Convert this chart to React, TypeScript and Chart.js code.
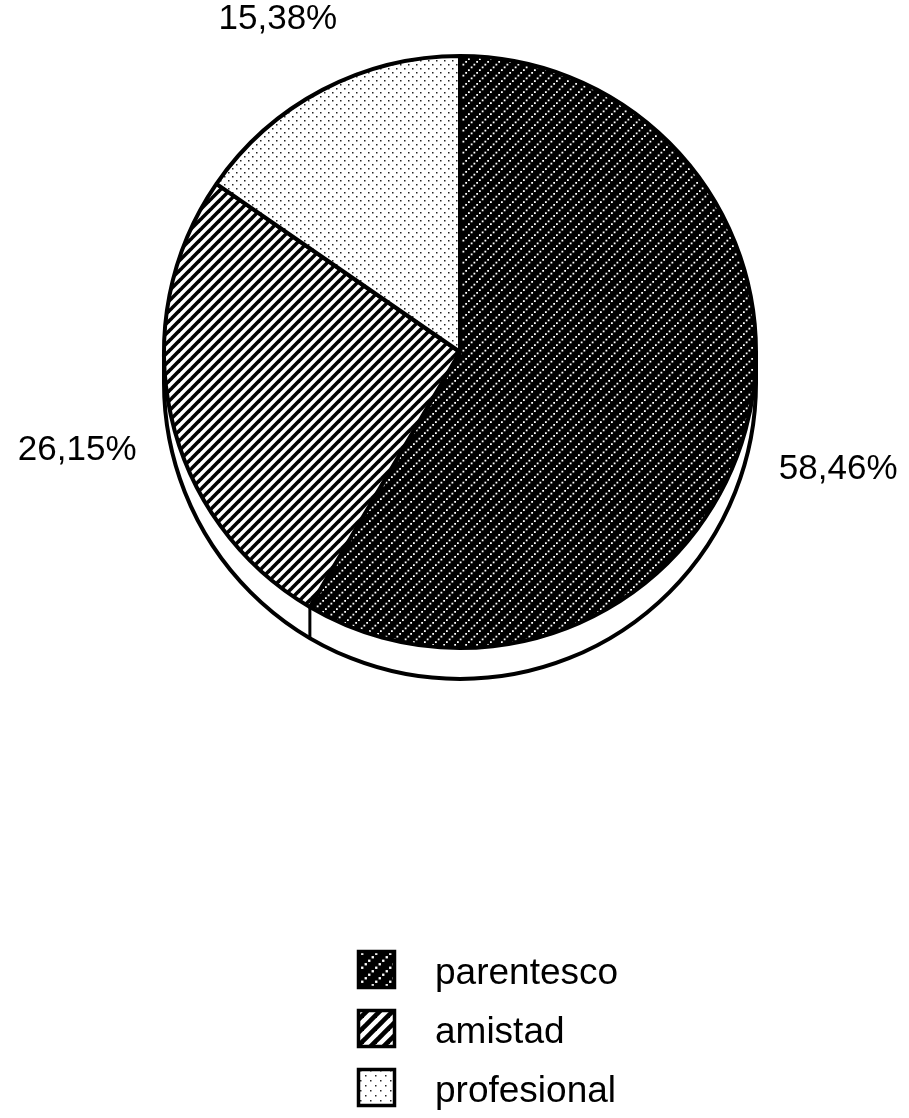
import React, { useEffect, useRef } from 'react';
import { Chart, registerables } from 'chart.js';

Chart.register(...registerables);

const categories = ['parentesco', 'amistad', 'profesional'];
const shares = [58.46, 26.15, 15.38];
const patternKinds = ['dense', 'stripes', 'dots'];

const FONT = '"Liberation Sans", Arial, Helvetica, sans-serif';

function makePattern(ctx: CanvasRenderingContext2D, kind: string, scale: number): CanvasPattern | string {
  const c = document.createElement('canvas');
  let base = 8;
  if (kind === 'dense') base = 10.5;
  if (kind === 'stripes') base = 10;
  const s = Math.round(base * scale);
  c.width = s;
  c.height = s;
  const g = c.getContext('2d')!;
  if (kind === 'dense') {
    g.fillStyle = '#000';
    g.fillRect(0, 0, s, s);
    g.fillStyle = '#fff';
    const n = 4;
    const step = s / n;
    const d = 1.8 * scale;
    for (let i = 0; i < n; i++) {
      const x = i * step + step / 2;
      const y = s - x;
      g.fillRect(x - d / 2, y - d / 2, d, d);
    }
  } else if (kind === 'stripes') {
    g.fillStyle = '#fff';
    g.fillRect(0, 0, s, s);
    g.strokeStyle = '#000';
    g.lineWidth = 3.6 * scale;
    for (const k of [0, s, 2 * s]) {
      g.beginPath();
      g.moveTo(-4, k + 4);
      g.lineTo(k + 4, -4);
      g.stroke();
    }
  } else {
    g.fillStyle = '#fff';
    g.fillRect(0, 0, s, s);
    g.fillStyle = '#222';
    const h = s / 2;
    g.fillRect(0, 0, 1.5, 1.5);
    g.fillRect(h, h, 1.5, 1.5);
  }
  return ctx.createPattern(c, 'repeat') || '#888';
}

const DEPTH = 31;

const rimPlugin = {
  id: 'rim',
  beforeDatasetsDraw(chart: any) {
    const meta = chart.getDatasetMeta(0);
    if (!meta.data.length) return;
    const a0 = meta.data[0];
    const cx = a0.x;
    const cy = a0.y;
    const r = a0.outerRadius;
    const ctx = chart.ctx;
    ctx.save();
    ctx.beginPath();
    ctx.arc(cx, cy + DEPTH, r, 0, Math.PI, false);
    ctx.lineTo(cx - r, cy);
    ctx.arc(cx, cy, r, Math.PI, 0, true);
    ctx.closePath();
    ctx.fillStyle = '#fff';
    ctx.fill();
    ctx.lineWidth = 4;
    ctx.strokeStyle = '#000';
    ctx.lineJoin = 'round';
    ctx.beginPath();
    ctx.moveTo(cx + r, cy);
    ctx.lineTo(cx + r, cy + DEPTH);
    ctx.arc(cx, cy + DEPTH, r, 0, Math.PI, false);
    ctx.lineTo(cx - r, cy);
    ctx.stroke();
    ctx.lineWidth = 3;
    meta.data.forEach((arc: any) => {
      const ang = arc.endAngle;
      const y = Math.sin(ang);
      if (y > 0) {
        const px = cx + Math.cos(ang) * r;
        const py = cy + y * r;
        ctx.beginPath();
        ctx.moveTo(px, py);
        ctx.lineTo(px, py + DEPTH);
        ctx.stroke();
      }
    });
    ctx.restore();
  },
};

let legendFills: (CanvasPattern | string)[] = [];

const labelPlugin = {
  id: 'pctLabels',
  afterDraw(chart: any) {
    const meta = chart.getDatasetMeta(0);
    const ctx = chart.ctx;
    ctx.save();
    ctx.fillStyle = '#000';
    ctx.font = `35px ${FONT}`;
    ctx.textAlign = 'center';
    ctx.textBaseline = 'middle';
    meta.data.forEach((arc: any, i: number) => {
      const mid = (arc.startAngle + arc.endAngle) / 2;
      const x = arc.x + Math.cos(mid) * 392;
      const y = arc.y + 14 + Math.sin(mid) * 392;
      const txt = shares[i].toFixed(2).replace('.', ',') + '%';
      ctx.fillText(txt, x, y);
    });
    categories.forEach((name, i) => {
      const top = 950 + i * 59;
      const left = 357;
      const size = 39;
      ctx.fillStyle = legendFills[i];
      ctx.fillRect(left, top, size, size);
      ctx.lineWidth = 3.5;
      ctx.strokeStyle = '#000';
      ctx.strokeRect(left + 1.5, top + 1.5, size - 3, size - 3);
      ctx.fillStyle = '#000';
      ctx.font = `37px ${FONT}`;
      ctx.textAlign = 'left';
      ctx.textBaseline = 'alphabetic';
      ctx.fillText(name, 435, top + 34);
    });
    ctx.restore();
  },
};

export default function App() {
  const ref = useRef<HTMLCanvasElement>(null);
  useEffect(() => {
    const canvas = ref.current!;
    const ctx = canvas.getContext('2d')!;
    const bgs = patternKinds.map((k) => makePattern(ctx, k, 1));
    legendFills = patternKinds.map((k) => makePattern(ctx, k, 1.3));
    const chart = new Chart(canvas, {
      type: 'pie',
      data: {
        labels: categories,
        datasets: [
          {
            data: shares,
            backgroundColor: bgs as any,
            borderColor: '#000',
            borderWidth: 4,
            hoverOffset: 0,
          },
        ],
      },
      options: {
        animation: false,
        responsive: false,
        radius: 296,
        layout: { padding: { left: 160, right: 149, top: 40, bottom: 454 } },
        plugins: {
          legend: { display: false },
          tooltip: { enabled: false },
        },
        events: [],
      } as any,
      plugins: [rimPlugin, labelPlugin],
    });
    return () => chart.destroy();
  }, []);
  return (
    <div style={{ position: 'absolute', left: 0, top: 0, width: 909, height: 1118, background: '#fff' }}>
      <canvas ref={ref} width={909} height={1118} style={{ width: 909, height: 1118 }} />
    </div>
  );
}
